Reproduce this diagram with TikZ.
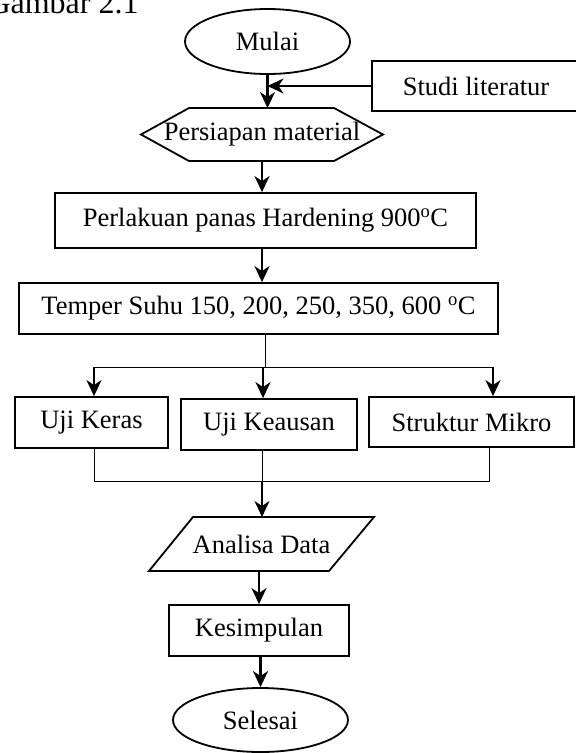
\documentclass[tikz,border=0pt]{standalone}
\usepackage{fontspec}
\setmainfont{Liberation Serif}
\usetikzlibrary{shapes.geometric,arrows.meta}

\begin{document}
\begin{tikzpicture}[x=1pt,y=-1pt,
    font=\fontsize{26.5}{30}\selectfont,
    kotak/.style={draw,line width=1.8pt,inner sep=0pt},
    oval/.style={draw,ellipse,line width=1.8pt,inner sep=0pt},
    bentuk/.style={inner sep=0pt,outer sep=0pt},
    panah/.style={line width=2.4pt,-{Stealth[length=16pt,width=15pt,inset=5pt]}},
    garis/.style={line width=1pt}]
      \useasboundingbox (0,0) rectangle (576,753);
      \draw
        (-16,13) node[anchor=base west,font=\fontsize{32}{36}\selectfont] (judul){Gambar 2.1}
        (267.5,41.5) node[oval,minimum width=165pt,minimum height=65pt] (mulai){Mulai}
        (476,86) node[kotak,minimum width=208pt,minimum height=50pt] (studi){Studi literatur}
        (262,134.5) node[bentuk,minimum width=242pt,minimum height=53pt] (persiapan){Persiapan material}
        (265.5,220.5) node[kotak,minimum width=421pt,minimum height=55pt] (perlakuan){Perlakuan panas Hardening 900\textsuperscript{o}C}
        (258.5,308.5) node[kotak,minimum width=479pt,minimum height=51pt] (temper){Temper Suhu 150, 200, 250, 350, 600 \textsuperscript{o}C}
        (91.5,422.5) node[kotak,minimum width=153pt,minimum height=51pt] (keras){Uji Keras}
        (269,424.5) node[kotak,minimum width=176pt,minimum height=51pt] (keausan){Uji Keausan}
        (471.5,422) node[kotak,minimum width=205pt,minimum height=50pt] (mikro){Struktur Mikro}
        (261.5,544) node[bentuk,minimum width=225pt,minimum height=54pt] (analisa){Analisa Data}
        (259,630.5) node[kotak,minimum width=180pt,minimum height=51pt] (kesimpulan){Kesimpulan}
        (260.5,720) node[oval,minimum width=175pt,minimum height=64pt] (selesai){Selesai};
      % hexagon and parallelogram outlines
      \draw[line width=1.8pt] (persiapan.west) -- ([xshift=48pt]persiapan.north west)
        -- ([xshift=-49pt]persiapan.north east) -- (persiapan.east)
        -- ([xshift=-49pt]persiapan.south east) -- ([xshift=48pt]persiapan.south west) -- cycle;
      \draw[line width=1.8pt] (analisa.south west) -- ([xshift=44pt]analisa.north west)
        -- (analisa.north east) -- ([xshift=-45pt]analisa.south east) -- cycle;
      \coordinate (cabang) at (265,367);
      \coordinate (b1) at (94,367);
      \coordinate (b2) at (263,367);
      \coordinate (b3) at (493,367);
      \coordinate (j1) at (94,481);
      \coordinate (j2) at (262,481);
      \coordinate (j3) at (489,481);
      \begin{scope}[panah]
        \draw (mulai.south) -- (mulai.south |- persiapan.north);
        \draw (studi.west) -- (studi.west -| mulai.south);
        \draw (persiapan.south) -- (persiapan.south |- perlakuan.north);
        \draw (perlakuan.south -| persiapan.south) -- (persiapan.south |- temper.north);
        \draw (b1) -- (b1 |- keras.north);
        \draw (b2) -- (b2 |- keausan.north);
        \draw (b3) -- (b3 |- mikro.north);
        \draw (j2) -- (j2 |- analisa.north);
        \draw (analisa.south -| kesimpulan.north) -- (kesimpulan.north);
        \draw (kesimpulan.south -| selesai.north) -- (selesai.north);
      \end{scope}
      \begin{scope}[garis]
        \draw (temper.south -| cabang) -- (cabang);
        \draw (b1) -- (b3);
        \draw (keras.south -| j1) -- (j1) -- (j3) -- (mikro.south -| j3);
        \draw (keausan.south -| j2) -- (j2);
      \end{scope}
    \end{tikzpicture}
\end{document}
